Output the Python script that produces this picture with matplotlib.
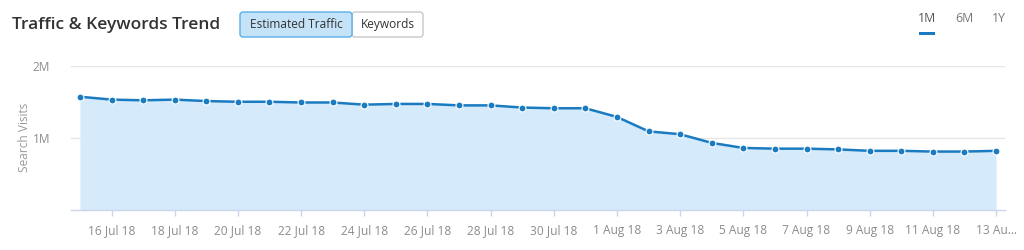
import matplotlib
matplotlib.use("Agg")
import matplotlib.pyplot as plt
from matplotlib.patches import FancyBboxPatch, Rectangle
import pandas as pd

# Daily search visits, 15 Jul 2018 - 13 Aug 2018 (millions)
dates = pd.date_range("2018-07-15", "2018-08-13", freq="D")
visits_m = [1.57, 1.53, 1.52, 1.53, 1.51, 1.50, 1.50, 1.49, 1.49, 1.46,
            1.47, 1.47, 1.45, 1.45, 1.42, 1.41, 1.41, 1.29, 1.09, 1.05,
            0.93, 0.86, 0.85, 0.85, 0.84, 0.82, 0.82, 0.81, 0.81, 0.82]
y_ticks = [1e6, 2e6]
y_tick_labels = ["1M", "2M"]
tick_dates = pd.date_range("2018-07-16", "2018-08-11", freq="2D").append(
    pd.DatetimeIndex(["2018-08-13"]))
tick_labels = [d.strftime("%-d %b %y") for d in tick_dates[:-1]] + ["13 Au\u2026"]

visits = [v * 1e6 for v in visits_m]

plt.rcParams["font.family"] = ["Open Sans", "DejaVu Sans"]
W, H = 1024, 250
fig = plt.figure(figsize=(W / 100, H / 100), dpi=100)

# axes placed in pixel terms: x 71..1005, y 65.7..210 (from top)
ax = fig.add_axes([71 / W, 1 - 210 / H, (1005 - 71) / W, (210 - 65.7) / H])

line_c = "#1a7bc0"
fill_c = "#d5ebfb"
ax.fill_between(dates, visits, 0, color=fill_c, lw=0)
ax.plot(dates, visits, color=line_c, lw=1.8, marker="o", ms=5,
        mfc=line_c, mec="white", mew=0.8, zorder=3)

pad = pd.Timedelta(hours=6.8)
ax.set_xlim(dates[0] - pad, dates[-1] + pad)
ax.set_ylim(0, 2e6)

ax.set_yticks(y_ticks)
ax.set_yticklabels(y_tick_labels)
ax.set_xticks(tick_dates)
ax.set_xticklabels(tick_labels)

for y in y_ticks:
    ax.axhline(y, color="#e6e6e6", lw=1, zorder=0)

for s in ["top", "right", "left"]:
    ax.spines[s].set_visible(False)
ax.spines["bottom"].set_color("#ccd6eb")
ax.spines["bottom"].set_linewidth(1)

ax.tick_params(axis="x", colors="#ccd6eb", length=4, width=1, pad=6,
               labelcolor="#8c8c8c", labelsize=8.6)
ax.tick_params(axis="y", length=0, pad=15, labelcolor="#8c8c8c", labelsize=8.6)
ax.set_ylabel("Search Visits", color="#9a9a9a", fontsize=8.6, labelpad=1)

# header
fig.text(12 / W, 1 - 25 / H, "Traffic & Keywords Trend", fontsize=12.5,
         fontweight="semibold", color="#333333", va="center", ha="left")

inch = fig.dpi_scale_trans


def button(x0, x1, y0, y1, face, edge, label, color):
    box = FancyBboxPatch((x0 / 100, (H - y1) / 100), (x1 - x0) / 100,
                         (y1 - y0) / 100,
                         boxstyle="round,pad=0,rounding_size=0.03",
                         transform=inch, fc=face, ec=edge, lw=1)
    fig.add_artist(box)
    fig.text((x0 + x1) / 2 / W, 1 - (y0 + y1) / 2 / H, label, fontsize=8.6,
             color=color, ha="center", va="center")


button(352, 423, 12, 37, "white", "#c8c8c8", "Keywords", "#333333")
button(240, 352, 12, 37, "#c4e3f8", "#5aaee6", "Estimated Traffic", "#333333")

fig.text(927 / W, 1 - 19 / H, "1M", fontsize=8.8, color="#555555",
         ha="center", va="center")
fig.text(964 / W, 1 - 19 / H, "6M", fontsize=8.8, color="#777777",
         ha="center", va="center")
fig.text(999 / W, 1 - 19 / H, "1Y", fontsize=8.8, color="#777777",
         ha="center", va="center")
fig.add_artist(Rectangle((919 / 100, (H - 35) / 100), 16 / 100, 3 / 100,
                         transform=inch, fc=line_c, ec="none"))

fig.savefig("out.png", dpi=100)
